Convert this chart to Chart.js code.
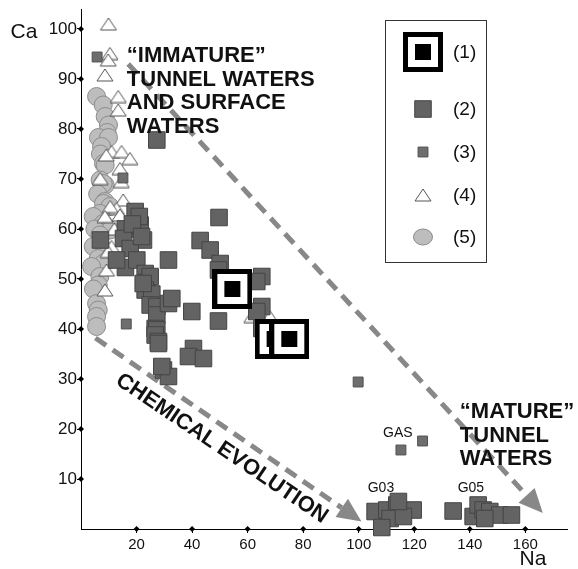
<!DOCTYPE html>
<html>
<head>
<meta charset="utf-8">
<script src="https://cdn.jsdelivr.net/npm/chart.js@4/dist/chart.umd.min.js"></script>
<style>
  html, body { margin: 0; padding: 0; background: #fff; }
  #wrap { width: 578px; height: 569px; }
</style>
</head>
<body>
<div id="wrap"><canvas id="chart" width="578" height="569"></canvas></div>
<script>
// Na (x) / Ca (y) values
const xTicks = [20, 40, 60, 80, 100, 120, 140, 160];
const yTicks = [10, 20, 30, 40, 50, 60, 70, 80, 90, 100];
const seriesLabels = ['(1)', '(2)', '(3)', '(4)', '(5)'];

const s1 = [[54.5, 48], [69.7, 38], [75, 38]];

const s2 = [
  [27.3, 77.8],
  [19.5, 63.5], [16, 60], [21.3, 60.8], [22.5, 57.8], [15.3, 58.1], [17.7, 56.1], [21, 62.5], [18.5, 61],
  [16, 52.3], [20.1, 53.8], [23.1, 51.1], [23.7, 49.3], [24.9, 50.5], [23.1, 47.8], [25.5, 47], [24.9, 44.8],
  [27.3, 44.5], [27.3, 42.8], [26.7, 40.1], [27.3, 39.8], [26.7, 38.8], [27.9, 37.5], [27.9, 37.1],
  [31.5, 45.1], [32.7, 46.1], [31.5, 53.8], [21.8, 58.5], [22.4, 49.1], [12.8, 53.8], [7, 57.8],
  [39.9, 43.5], [49.5, 41.6], [49.7, 62.3], [42.9, 57.7], [46.5, 55.8], [50.1, 53.1], [49.5, 51.8],
  [40.5, 36.1], [38.7, 34.5], [44.1, 34.1], [29.7, 31.8], [31.5, 30.5], [29.1, 32.5],
  [65.1, 50.5], [63.3, 49.5], [65.1, 44.5], [63.3, 43.5], [65.1, 40.1],
  [105.9, 3.5], [110.1, 3.8], [113.7, 4.8], [114.9, 3.5], [119.6, 3.8], [111.3, 2.1], [116.1, 2.5], [108.3, 0.3], [114.3, 5.5],
  [134, 3.6], [141.2, 2.5], [143, 4.8], [144.8, 3.8], [147.2, 3.5], [150.8, 2.8], [155, 2.8], [145.4, 2.1]
];

const s3 = [[5.8, 94.4], [15.1, 70.2], [16.3, 41], [99.8, 29.4], [115.2, 15.8], [123, 17.6]];

const s4 = [
  [9.9, 101], [10.4, 95.1], [9.8, 93.8], [8.6, 90.8], [13.4, 86.5], [13.4, 83.8],
  [11, 75.5], [14.6, 75.5], [17.6, 74.1], [9.1, 74.8], [14, 72.1], [6.9, 70.1], [14.5, 69.5],
  [15.2, 65.8], [12.8, 64.1], [10.5, 64.5], [8.6, 62.5], [14, 62.8], [12, 60], [11, 56.5],
  [9.8, 55.5], [9.2, 51.8], [8.6, 47.8], [61.5, 42.5], [68, 42.5]
];

const s5 = [
  [5.6, 86.5], [8, 84.8], [8.7, 82.5], [9.9, 80.8], [9.4, 79.3], [6.3, 78.3], [9.9, 78.3], [7.4, 76.5], [7, 75],
  [8.1, 73.1], [8.7, 72.8], [6.9, 69.8], [8.7, 68.8], [8, 69.1], [6, 67], [8.6, 65.5], [8.1, 65.1], [10.4, 64.5],
  [6.8, 63.1], [4.4, 62.5], [8, 61.1], [9.8, 59.8], [10.5, 59.8], [5, 60], [6.8, 58.8], [4.4, 56.5], [8.6, 55.8],
  [6.2, 54.1], [9.8, 53.8], [8, 53.1], [3.8, 52.5], [6.8, 50.5], [6.2, 48.8], [4.5, 48], [5.6, 45.1], [6.2, 43.8],
  [5.6, 42.5], [5.6, 40.5]
];

// annotations, in data units
const arrows = [[[17, 93], [166.3, 3.2]], [[5.2, 38.2], [101, 1.5]]];
const immatureText = ['\u201CIMMATURE\u201D', 'TUNNEL WATERS', 'AND SURFACE', 'WATERS'];
const matureText = ['\u201CMATURE\u201D', 'TUNNEL', 'WATERS'];
const smallLabels = [['GAS', 114.1, 19.2], ['G03', 108, 8.2], ['G05', 140.4, 8.2]];

const pts = a => a.map(([x, y]) => ({ x, y }));

function boxMarker() {
  const c = document.createElement('canvas');
  c.width = 40; c.height = 40;
  const g = c.getContext('2d');
  g.fillStyle = '#fff'; g.fillRect(0, 0, 40, 40);
  g.lineWidth = 5; g.strokeStyle = '#000'; g.strokeRect(2.5, 2.5, 35, 35);
  g.fillStyle = '#000'; g.fillRect(12, 12, 16, 16);
  return c;
}
function triMarker() {
  const c = document.createElement('canvas');
  c.width = 18; c.height = 14;
  const g = c.getContext('2d');
  g.beginPath(); g.moveTo(9, 1); g.lineTo(17, 13); g.lineTo(1, 13); g.closePath();
  g.fillStyle = '#fff'; g.fill();
  g.lineWidth = 1; g.strokeStyle = '#555'; g.stroke();
  return c;
}

const font = '"Liberation Sans", Arial, sans-serif';

// keep the plot area where the original has it
const noPad = s => { s.paddingTop = 0; s.paddingBottom = 0; s.paddingLeft = 0; s.paddingRight = 0; };

const decor = {
  id: 'decor',
  beforeDatasetsDraw(chart) {
    const { ctx, scales: { x, y } } = chart;
    arrows.forEach(([a, b]) => {
      const x1 = x.getPixelForValue(a[0]), y1 = y.getPixelForValue(a[1]);
      const x2 = x.getPixelForValue(b[0]), y2 = y.getPixelForValue(b[1]);
      const ang = Math.atan2(y2 - y1, x2 - x1);
      const head = 24, hw = 11;
      const bx = x2 - head * Math.cos(ang), by = y2 - head * Math.sin(ang);
      ctx.save();
      ctx.strokeStyle = '#888'; ctx.lineWidth = 5; ctx.setLineDash([13, 8]);
      ctx.beginPath(); ctx.moveTo(x1, y1); ctx.lineTo(bx, by); ctx.stroke();
      ctx.setLineDash([]); ctx.fillStyle = '#888';
      ctx.beginPath(); ctx.moveTo(x2, y2);
      ctx.lineTo(bx + hw * Math.sin(ang), by - hw * Math.cos(ang));
      ctx.lineTo(bx - hw * Math.sin(ang), by + hw * Math.cos(ang));
      ctx.closePath(); ctx.fill();
      ctx.restore();
    });
  },
  afterDatasetsDraw(chart) {
    const { ctx, scales: { x, y } } = chart;
    ctx.save();
    // tick diamonds
    ctx.fillStyle = '#000';
    const dia = (px, py) => { ctx.beginPath(); ctx.moveTo(px, py - 3); ctx.lineTo(px + 3, py); ctx.lineTo(px, py + 3); ctx.lineTo(px - 3, py); ctx.fill(); };
    xTicks.forEach(v => dia(x.getPixelForValue(v), y.bottom));
    yTicks.forEach(v => dia(x.left, y.getPixelForValue(v)));

    // block texts
    ctx.fillStyle = '#111';
    ctx.textBaseline = 'alphabetic'; ctx.textAlign = 'left';
    ctx.font = 'bold 22px ' + font;
    immatureText.forEach((t, i) => ctx.fillText(t, x.getPixelForValue(16.5), y.getPixelForValue(93.4) + i * 23.5));
    matureText.forEach((t, i) => ctx.fillText(t, x.getPixelForValue(136.4), y.getPixelForValue(22.2) + i * 23.5));

    // rotated label
    ctx.save();
    ctx.translate(x.getPixelForValue(50.7), y.getPixelForValue(16.1));
    ctx.rotate(34 * Math.PI / 180);
    ctx.textAlign = 'center'; ctx.textBaseline = 'middle';
    ctx.fillText('CHEMICAL EVOLUTION', 0, 0);
    ctx.restore();

    ctx.font = '14px ' + font;
    ctx.textAlign = 'center'; ctx.textBaseline = 'middle';
    smallLabels.forEach(([t, vx, vy]) => ctx.fillText(t, x.getPixelForValue(vx), y.getPixelForValue(vy)));

    // axis titles
    ctx.font = '21px ' + font;
    ctx.fillText('Ca', 24, y.getPixelForValue(100) + 3);
    ctx.fillText('Na', 533, 559);

    // legend box
    ctx.lineWidth = 1; ctx.strokeStyle = '#333';
    ctx.fillStyle = '#fff';
    ctx.fillRect(385.5, 20.5, 101, 242);
    ctx.strokeRect(385.5, 20.5, 101, 242);
    const rows = [52, 109, 152, 195, 237];
    const order = [0, 2, 1, 3, 4]; // dataset index for (1)..(5)
    rows.forEach((ry, i) => {
      const ds = chart.data.datasets[order[i]];
      if (typeof ds.pointStyle !== 'string') {
        ctx.drawImage(ds.pointStyle, 423 - ds.pointStyle.width / 2, ry - ds.pointStyle.height / 2);
      } else {
        ctx.fillStyle = ds.backgroundColor; ctx.strokeStyle = ds.borderColor; ctx.lineWidth = ds.borderWidth || 1;
        ctx.beginPath();
        if (ds.pointStyle === 'rect') {
          const h = ds.pointRadius * Math.SQRT1_2;
          ctx.rect(423 - h, ry - h, 2 * h, 2 * h);
        } else {
          ctx.ellipse(423, ry, 9.5, 8, 0, 0, Math.PI * 2);
        }
        ctx.fill(); ctx.stroke();
      }
      ctx.fillStyle = '#111';
      ctx.font = '19px ' + font;
      ctx.textAlign = 'left'; ctx.textBaseline = 'middle';
      ctx.fillText(seriesLabels[i], 453, ry + 1);
    });
    ctx.restore();
  }
};

new Chart(document.getElementById('chart'), {
  type: 'scatter',
  data: {
    datasets: [
      { label: seriesLabels[0], data: pts(s1), pointStyle: boxMarker(), pointRadius: 20, clip: false },
      { label: seriesLabels[2], data: pts(s3), pointStyle: 'rect', pointRadius: 7,
        backgroundColor: '#6e6e6e', borderColor: '#505050', borderWidth: 1, clip: false },
      { label: seriesLabels[1], data: pts(s2), pointStyle: 'rect', pointRadius: 11.7,
        backgroundColor: '#636363', borderColor: '#444', borderWidth: 1, clip: false },
      { label: seriesLabels[3], data: pts(s4), pointStyle: triMarker(), pointRadius: 9, clip: false },
      { label: seriesLabels[4], data: pts(s5), pointStyle: 'circle', pointRadius: 9,
        backgroundColor: '#bdbdbd', borderColor: '#8c8c8c', borderWidth: 1, clip: false }
    ]
  },
  options: {
    responsive: false,
    animation: false,
    events: [],
    layout: { autoPadding: false, padding: { top: 9, right: 11, left: 0, bottom: 0 } },
    plugins: { legend: { display: false }, tooltip: { enabled: false } },
    scales: {
      x: {
        type: 'linear', min: 0, max: 175,
        afterBuildTicks: s => { s.ticks = xTicks.map(v => ({ value: v })); },
        afterFit: s => { s.height = 40; noPad(s); },
        grid: { drawOnChartArea: false, tickLength: 4, color: '#000' },
        border: { color: '#000', width: 1 },
        ticks: { color: '#111', padding: 3, maxRotation: 0, font: { size: 15, family: font } }
      },
      y: {
        type: 'linear', min: 0, max: 104,
        afterBuildTicks: s => { s.ticks = yTicks.map(v => ({ value: v })); },
        afterFit: s => { s.width = 81; noPad(s); },
        grid: { drawOnChartArea: false, tickLength: 4, color: '#000' },
        border: { color: '#000', width: 1 },
        ticks: { color: '#111', padding: 0, font: { size: 17, family: font } }
      }
    }
  },
  plugins: [decor]
});
</script>
</body>
</html>
